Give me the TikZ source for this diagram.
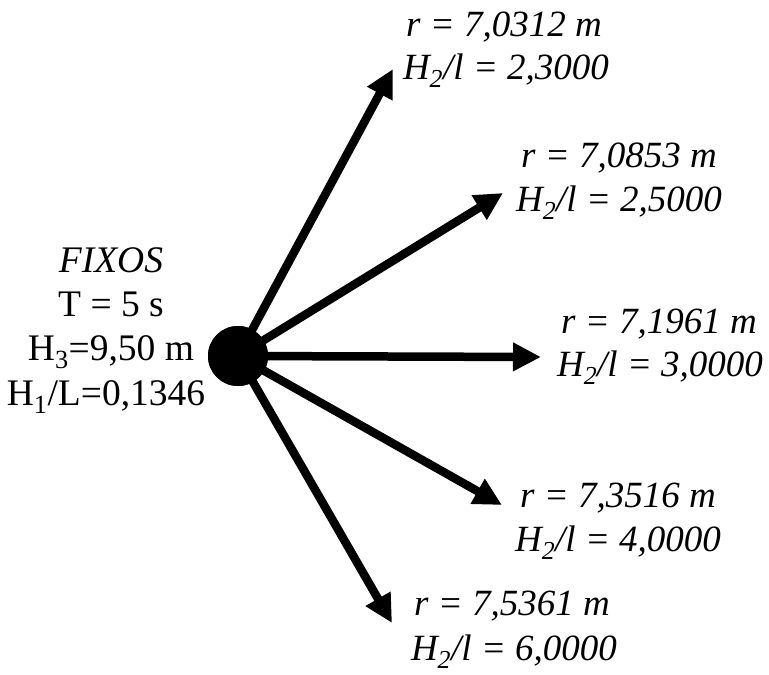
\documentclass[tikz,border=0pt]{standalone}
\usepackage{fontspec}
\setmainfont{Liberation Serif}
\usetikzlibrary{arrows.meta}
\tikzset{
  lbl/.style={align=center, anchor=base, inner sep=0pt, font=\fontsize{37}{44}\selectfont\itshape},
  lft/.style={align=center, anchor=base, inner sep=0pt, font=\fontsize{37.5}{44}\selectfont},
  ray/.style={line width=8.5pt, -{Triangle[length=28pt,width=27pt]}},
  hub/.style={circle, fill=black, inner sep=0pt, minimum size=60pt}
}
\begin{document}
\begin{tikzpicture}[x=1pt,y=-1pt]
\useasboundingbox (0,0) rectangle (769,675);
\node[hub] (c) at (238,356) {};
\coordinate (t1) at (393,69);
\coordinate (t2) at (503,193);
\coordinate (t3) at (541,357);
\coordinate (t4) at (502,505);
\coordinate (t5) at (392,623);
\foreach \t in {t1,t2,t3,t4,t5} \draw[ray] (c.center) -- (\t);
\node[hub] (c2) at (c) {};
\node[lft] (fixos) at (111,272) {\textit{FIXOS}};
\node[lft] (per) at (111,316) {T = 5 s};
\node[lft] (h3) at (111,360) {H\textsubscript{3}=9,50 m};
\node[lft] (h1) at (106,405) {H\textsubscript{1}/L=0,1346};
\node[lbl] (r1) at (504,36) {r = 7,0312 m};
\node[lbl] (q1) at (506,79) {H\textsubscript{2}/l = 2,3000};
\node[lbl] (r2) at (619,167) {r = 7,0853 m};
\node[lbl] (q2) at (619,211) {H\textsubscript{2}/l = 2,5000};
\node[lbl] (r3) at (659,333) {r = 7,1961 m};
\node[lbl] (q3) at (660,376) {H\textsubscript{2}/l = 3,0000};
\node[lbl] (r4) at (618,507) {r = 7,3516 m};
\node[lbl] (q4) at (618,551) {H\textsubscript{2}/l = 4,0000};
\node[lbl] (r5) at (512,615) {r = 7,5361 m};
\node[lbl] (q5) at (514,660) {H\textsubscript{2}/l = 6,0000};
\end{tikzpicture}
\end{document}
